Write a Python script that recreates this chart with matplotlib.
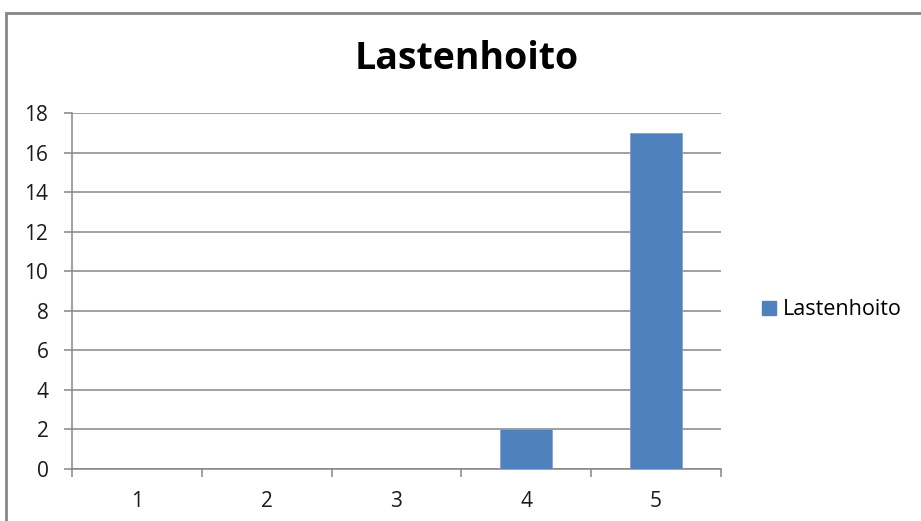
import numpy as np
import matplotlib
matplotlib.use('Agg')
import matplotlib.pyplot as plt
from matplotlib.patches import Rectangle, Patch

# Data
categories = ['1', '2', '3', '4', '5']
values = [0, 0, 0, 2, 17]
series_name = 'Lastenhoito'
title = 'Lastenhoito'
y_ticks = [0, 2, 4, 6, 8, 10, 12, 14, 16, 18]

plt.rcParams['font.family'] = ['Open Sans', 'DejaVu Sans']

bar_color = '#4F81BD'
line_color = '#868686'

fig = plt.figure(figsize=(9.21, 5.21), dpi=100)
ax = fig.add_axes([0.0782, 0.0998, 0.7046, 0.6833])

x = np.arange(1, len(categories) + 1)
ax.bar(x, values, width=0.4, color=bar_color, edgecolor='#7FA3D0', linewidth=0.6, zorder=3)

ax.set_xlim(0.5, len(categories) + 0.5)
ax.set_ylim(0, 18)
ax.set_yticks(y_ticks)
ax.set_yticklabels([str(t) for t in y_ticks])
ax.yaxis.grid(True, color=line_color, linewidth=1.1, zorder=0)

# category boundaries as major ticks, labels at centres as minor ticks
ax.set_xticks(np.arange(0.5, len(categories) + 1, 1.0))
ax.set_xticklabels([])
ax.set_xticks(x, minor=True)
ax.set_xticklabels(categories, minor=True)
ax.tick_params(axis='x', which='major', length=6, width=1.1, color=line_color)
ax.tick_params(axis='x', which='minor', length=0, pad=16, labelsize=15, labelcolor='#1a1a1a')
ax.tick_params(axis='y', length=6, width=1.1, color=line_color, pad=11,
               labelsize=15, labelcolor='#1a1a1a')

for s in ['top', 'right']:
    ax.spines[s].set_visible(False)
for s in ['left', 'bottom']:
    ax.spines[s].set_color(line_color)
    ax.spines[s].set_linewidth(1.1)

fig.text(0.507, 0.887, title, ha='center', va='center', fontsize=27, fontweight='bold')

fig.legend(handles=[Patch(color=bar_color, label=series_name)], loc='center left',
           bbox_to_anchor=(0.806, 0.405), frameon=False, fontsize=15.5,
           handlelength=0.65, handleheight=0.65, handletextpad=0.35)

# outer chart border
fig.patches.append(Rectangle((0.0065, -0.1), 1.2, 0.975 + 0.1, transform=fig.transFigure,
                             fill=False, edgecolor=line_color, linewidth=2))

fig.savefig('out.png', dpi=100)
